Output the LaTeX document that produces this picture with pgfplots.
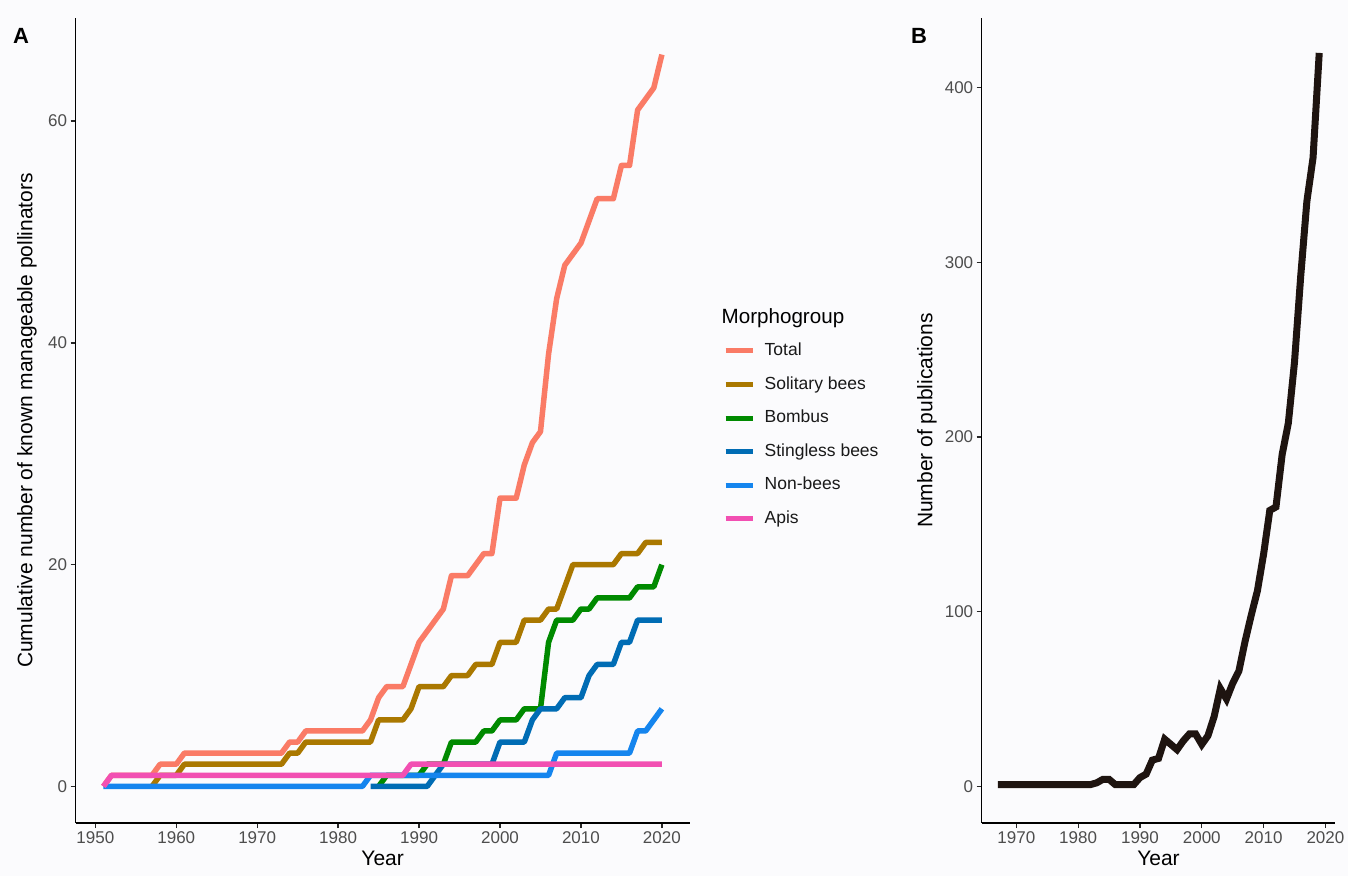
\documentclass[border=0pt]{standalone}
\usepackage{fontspec}
\setmainfont{Liberation Sans}
\usepackage{pgfplots}
\pgfplotsset{compat=1.18}
\definecolor{bg}{HTML}{FBFBFD}
\definecolor{cTotal}{HTML}{FA7B66}
\definecolor{cSol}{HTML}{AA7800}
\definecolor{cBom}{HTML}{008A00}
\definecolor{cSti}{HTML}{006CB4}
\definecolor{cNon}{HTML}{1585EE}
\definecolor{cApi}{HTML}{F24FB2}
\definecolor{cPub}{HTML}{1E1410}
\definecolor{tickgray}{HTML}{4D4D4D}
\pgfplotsset{
  gg/.style={
    scale only axis, height=805pt,
    axis x line=bottom, axis y line=left,
    axis line style={-, line width=1.5pt, black},
    tick align=outside, major tick length=5pt,
    tick style={line width=1.3pt, color=black!85},
    ticklabel style={font=\fontsize{17}{17}\selectfont, text=tickgray},
    /pgf/number format/assume math mode=true,
    /pgf/number format/1000 sep={},
    scaled ticks=false,
    label style={font=\fontsize{21}{21}\selectfont, text=black},
    xlabel style={at={(axis description cs:0.5,-0.0435)}, anchor=center},
    line join=round,
  }
}
\begin{document}
\begin{tikzpicture}[x=1pt,y=1pt]
\fill[bg] (0,0) rectangle (1348,876);
\path[use as bounding box] (0,0) rectangle (1348,876);

\begin{axis}[gg,
  at={(75.5pt,53pt)}, anchor=south west, width=614.3pt,
  xmin=1947.55, xmax=2023.45, ymin=-3.3, ymax=69.3,
  xtick={1950,1960,...,2020}, ytick={0,20,40,60},
  xlabel={Year},
  ylabel={Cumulative number of known manageable pollinators},
  ylabel style={at={(axis description cs:-0.079,0.5)}, anchor=center, rotate=0},
  legend style={draw=none, fill=none, at={(axis description cs:1.0540,0.482)}, anchor=west,
    inner sep=0pt, row sep=17.6pt, column sep=9.5pt,
    font=\fontsize{17.5}{17.5}\selectfont, text=black!90,
    nodes={inner sep=0pt, text height=12.5pt, text depth=3.5pt}},
  legend cell align=left,
  legend image code/.code={\draw[line width=5pt] (0pt,0pt) -- (27pt,0pt);},
]
\addplot[cTotal, line width=5.5pt] coordinates {
(1951,0)(1952,1)(1953,1)(1954,1)(1955,1)(1956,1)(1957,1)(1958,2)(1959,2)(1960,2)
(1961,3)(1962,3)(1963,3)(1964,3)(1965,3)(1966,3)(1967,3)(1968,3)(1969,3)(1970,3)
(1971,3)(1972,3)(1973,3)(1974,4)(1975,4)(1976,5)(1977,5)(1978,5)(1979,5)(1980,5)
(1981,5)(1982,5)(1983,5)(1984,6)(1985,8)(1986,9)(1987,9)(1988,9)(1989,11)(1990,13)
(1991,14)(1992,15)(1993,16)(1994,19)(1995,19)(1996,19)(1997,20)(1998,21)(1999,21)(2000,26)
(2001,26)(2002,26)(2003,29)(2004,31)(2005,32)(2006,39)(2007,44)(2008,47)(2009,48)(2010,49)
(2011,51)(2012,53)(2013,53)(2014,53)(2015,56)(2016,56)(2017,61)(2018,62)(2019,63)(2020,66)};
\addlegendentry{Total}
\addplot[cSol, line width=5.5pt] coordinates {
(1957,0)(1958,1)(1959,1)(1960,1)(1961,2)(1962,2)(1963,2)(1964,2)(1965,2)(1966,2)
(1967,2)(1968,2)(1969,2)(1970,2)(1971,2)(1972,2)(1973,2)(1974,3)(1975,3)(1976,4)
(1977,4)(1978,4)(1979,4)(1980,4)(1981,4)(1982,4)(1983,4)(1984,4)(1985,6)(1986,6)
(1987,6)(1988,6)(1989,7)(1990,9)(1991,9)(1992,9)(1993,9)(1994,10)(1995,10)(1996,10)
(1997,11)(1998,11)(1999,11)(2000,13)(2001,13)(2002,13)(2003,15)(2004,15)(2005,15)(2006,16)
(2007,16)(2008,18)(2009,20)(2010,20)(2011,20)(2012,20)(2013,20)(2014,20)(2015,21)(2016,21)
(2017,21)(2018,22)(2019,22)(2020,22)};
\addlegendentry{Solitary bees}
\addplot[cBom, line width=5.5pt] coordinates {
(1985,0)(1986,1)(1987,1)(1988,1)(1989,1)(1990,1)(1991,2)(1992,2)(1993,2)(1994,4)
(1995,4)(1996,4)(1997,4)(1998,5)(1999,5)(2000,6)(2001,6)(2002,6)(2003,7)(2004,7)
(2005,7)(2006,13)(2007,15)(2008,15)(2009,15)(2010,16)(2011,16)(2012,17)(2013,17)(2014,17)
(2015,17)(2016,17)(2017,18)(2018,18)(2019,18)(2020,20)};
\addlegendentry{Bombus}
\addplot[cSti, line width=5.5pt] coordinates {
(1984,0)(1985,0)(1986,0)(1987,0)(1988,0)(1989,0)(1990,0)(1991,0)(1992,1)(1993,2)
(1994,2)(1995,2)(1996,2)(1997,2)(1998,2)(1999,2)(2000,4)(2001,4)(2002,4)(2003,4)
(2004,6)(2005,7)(2006,7)(2007,7)(2008,8)(2009,8)(2010,8)(2011,10)(2012,11)(2013,11)
(2014,11)(2015,13)(2016,13)(2017,15)(2018,15)(2019,15)(2020,15)};
\addlegendentry{Stingless bees}
\addplot[cNon, line width=5.5pt] coordinates {
(1951,0)(1952,0)(1953,0)(1954,0)(1955,0)(1956,0)(1957,0)(1958,0)(1959,0)(1960,0)
(1961,0)(1962,0)(1963,0)(1964,0)(1965,0)(1966,0)(1967,0)(1968,0)(1969,0)(1970,0)
(1971,0)(1972,0)(1973,0)(1974,0)(1975,0)(1976,0)(1977,0)(1978,0)(1979,0)(1980,0)
(1981,0)(1982,0)(1983,0)(1984,1)(1985,1)(1986,1)(1987,1)(1988,1)(1989,1)(1990,1)
(1991,1)(1992,1)(1993,1)(1994,1)(1995,1)(1996,1)(1997,1)(1998,1)(1999,1)(2000,1)
(2001,1)(2002,1)(2003,1)(2004,1)(2005,1)(2006,1)(2007,3)(2008,3)(2009,3)(2010,3)
(2011,3)(2012,3)(2013,3)(2014,3)(2015,3)(2016,3)(2017,5)(2018,5)(2019,6)(2020,7)};
\addlegendentry{Non-bees}
\addplot[cApi, line width=5.5pt] coordinates {
(1951,0)(1952,1)(1953,1)(1954,1)(1955,1)(1956,1)(1957,1)(1958,1)(1959,1)(1960,1)
(1961,1)(1962,1)(1963,1)(1964,1)(1965,1)(1966,1)(1967,1)(1968,1)(1969,1)(1970,1)
(1971,1)(1972,1)(1973,1)(1974,1)(1975,1)(1976,1)(1977,1)(1978,1)(1979,1)(1980,1)
(1981,1)(1982,1)(1983,1)(1984,1)(1985,1)(1986,1)(1987,1)(1988,1)(1989,2)(1990,2)
(1991,2)(1992,2)(1993,2)(1994,2)(1995,2)(1996,2)(1997,2)(1998,2)(1999,2)(2000,2)
(2001,2)(2002,2)(2003,2)(2004,2)(2005,2)(2006,2)(2007,2)(2008,2)(2009,2)(2010,2)
(2011,2)(2012,2)(2013,2)(2014,2)(2015,2)(2016,2)(2017,2)(2018,2)(2019,2)(2020,2)};
\addlegendentry{Apis}
\end{axis}

\node[anchor=west, font=\fontsize{20.6}{20.6}\selectfont, text=black, inner sep=0pt] at (721.5,558) {Morphogroup};
\node[font=\bfseries\fontsize{22}{22}\selectfont, inner sep=0pt] at (21,840) {A};
\node[font=\bfseries\fontsize{22}{22}\selectfont, inner sep=0pt] at (919,840) {B};

\begin{axis}[gg,
  at={(981.7pt,53pt)}, anchor=south west, width=353.6pt,
  xmin=1964.4, xmax=2021.6, ymin=-21, ymax=440,
  xtick={1970,1980,...,2020}, ytick={0,100,...,400},
  xlabel={Year},
  ylabel={Number of publications},
  ylabel style={at={(axis description cs:-0.155,0.5)}, anchor=center},
]
\addplot[cPub, line width=7pt, line join=miter] coordinates {
(1967,1)(1968,1)(1969,1)(1970,1)(1971,1)(1972,1)(1973,1)(1974,1)(1975,1)(1976,1)
(1977,1)(1978,1)(1979,1)(1980,1)(1981,1)(1982,1)(1983,2)(1984,4)(1985,4)(1986,1)
(1987,1)(1988,1)(1989,1)(1990,5)(1991,7)(1992,15)(1993,16)(1994,27)(1995,24)(1996,21)
(1997,26)(1998,30)(1999,30)(2000,24)(2001,29)(2002,40)(2003,56)(2004,50)(2005,59)(2006,66)
(2007,83)(2008,98)(2009,112)(2010,133)(2011,158)(2012,160)(2013,190)(2014,208)(2015,243)(2016,292)
(2017,335)(2018,360)(2019,420)};
\end{axis}
\end{tikzpicture}
\end{document}
